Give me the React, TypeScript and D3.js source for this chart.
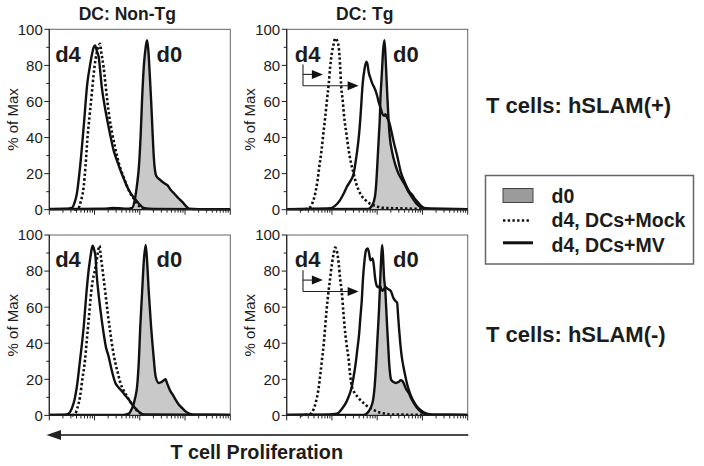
import React from "react";
import * as d3 from "d3";

type Pt = [number, number];

// ---- text ----
const columnTitles = ["DC: Non-Tg", "DC: Tg"];
const rowLabels = ["T cells: hSLAM(+)", "T cells: hSLAM(-)"];
const legendLabels = ["d0", "d4, DCs+Mock", "d4, DCs+MV"];
const xAxisTitle = "T cell Proliferation";
const yAxisTitle = "% of Max";
const yTicks = [0, 20, 40, 60, 80, 100];
const yMinorTicks = [10, 30, 50, 70, 90];
const xDomain = [1, 10000];

// ---- series: [log10 fluorescence, % of max] ----
// hSLAM(+), DC Non-Tg
const posNonTgD0: Pt[] = [[0,0.3],[1.2,0.5],[1.4,1.0],[1.55,0.8],[1.7,0.5],[1.83,1],[1.9,7],[1.94,14],[1.98,23.7],[2.02,42],[2.05,60.8],[2.09,80],[2.13,90],[2.16,94],[2.19,88],[2.22,75],[2.25,60.8],[2.28,44],[2.31,29],[2.36,19],[2.45,16.5],[2.55,14.5],[2.61,13.6],[2.68,11],[2.76,9],[2.85,6.5],[2.94,4.3],[3.02,2],[3.09,0.6],[3.3,0.3],[4,0.2]];
const posNonTgMock: Pt[] = [[0.55,0],[0.64,0.8],[0.7,5],[0.76,12.7],[0.8,24],[0.84,38.6],[0.89,52],[0.94,64.5],[0.98,75],[1.02,83],[1.06,88],[1.09,90.5],[1.12,92],[1.15,87],[1.2,79],[1.24,70],[1.28,60.8],[1.33,51],[1.39,42.3],[1.45,35],[1.5,29.3],[1.57,23],[1.64,18.2],[1.72,13],[1.79,9],[1.87,6],[1.94,3.4],[2.02,1.2],[2.1,0.3]];
const posNonTgMV: Pt[] = [[0,0.4],[0.4,0.5],[0.5,1],[0.56,4],[0.61,9],[0.68,23.7],[0.76,46],[0.84,70],[0.9,80],[0.94,85.7],[0.98,90],[1.01,91],[1.05,88],[1.09,84.8],[1.16,68],[1.22,58],[1.28,49.7],[1.35,41],[1.42,33],[1.5,27],[1.57,22],[1.65,17],[1.72,12.7],[1.79,9.5],[1.86,7],[1.94,4.5],[2.01,2.5],[2.1,0.8],[2.3,0.4],[4,0.3]];

// hSLAM(+), DC Tg
const posTgD0: Pt[] = [[0,0.3],[1.8,0.4],[1.89,2.5],[1.93,5],[1.96,9],[1.98,15],[2.0,23.7],[2.02,33],[2.04,42.3],[2.06,52],[2.07,60.8],[2.09,70],[2.11,79],[2.13,88],[2.16,94],[2.19,82],[2.22,65],[2.25,50],[2.28,40],[2.33,32],[2.4,25],[2.47,20],[2.56,16],[2.62,13.5],[2.67,10.8],[2.74,8],[2.81,5.3],[2.88,3],[2.96,1.4],[3.1,0.5],[4,0.3]];
const posTgMock: Pt[] = [[0.3,0],[0.45,0.5],[0.52,1.4],[0.58,4.5],[0.63,9],[0.68,16],[0.72,23.7],[0.77,33],[0.81,42.3],[0.85,51],[0.89,60.8],[0.93,70],[0.96,79],[1.0,87],[1.04,92],[1.07,95],[1.11,94],[1.15,90],[1.18,80],[1.2,70],[1.24,60],[1.27,51.5],[1.32,42],[1.37,33],[1.42,26],[1.48,20],[1.53,15],[1.59,10.8],[1.66,7.5],[1.74,5.3],[1.83,3.5],[1.92,2.5],[2.03,1.5],[2.14,1],[2.4,0.8],[2.7,0.6],[3.0,0.3]];
const posTgMV: Pt[] = [[0,0.3],[0.6,0.5],[0.96,0.8],[1.06,2],[1.18,5.3],[1.26,9],[1.33,12.7],[1.41,16],[1.48,20],[1.52,26],[1.56,33],[1.6,42],[1.63,51.5],[1.68,70],[1.72,78],[1.76,82],[1.79,80],[1.81,76.5],[1.85,73],[1.89,70],[1.93,68],[1.96,66.3],[2.0,63],[2.04,59],[2.08,56],[2.11,53.4],[2.15,52],[2.18,53],[2.22,51],[2.26,49],[2.3,45],[2.37,37],[2.44,30],[2.52,21],[2.63,14],[2.7,10.5],[2.78,8],[2.85,5.5],[2.92,3.5],[2.98,2],[3.04,1],[3.2,0.5],[4,0.3]];

// hSLAM(-), DC Non-Tg
const negNonTgD0: Pt[] = [[0,0.3],[1.6,0.3],[1.7,0.6],[1.76,1],[1.81,3],[1.86,6],[1.9,10],[1.94,16],[1.98,30.8],[2.01,49],[2.05,67.7],[2.09,86],[2.13,94.5],[2.16,86],[2.2,67.7],[2.25,49],[2.3,34],[2.35,21.6],[2.42,18],[2.48,18.5],[2.53,19.5],[2.57,20],[2.6,18],[2.64,15.5],[2.68,13.3],[2.74,11],[2.79,8.7],[2.86,6],[2.94,4],[3.01,2.2],[3.09,1],[3.2,0.4],[4,0.3]];
const negNonTgMock: Pt[] = [[0.5,0],[0.57,0.8],[0.62,4],[0.68,10.5],[0.73,20],[0.79,30.8],[0.83,42],[0.87,53],[0.94,71.4],[1.02,82],[1.06,88],[1.09,92.6],[1.11,94],[1.13,90],[1.16,84],[1.2,76],[1.24,67.7],[1.29,57],[1.35,45.6],[1.4,37],[1.46,29],[1.52,23],[1.57,18],[1.64,14],[1.72,10.5],[1.79,7.5],[1.86,5],[1.94,2.5],[2.01,1.3],[2.08,0.3]];
const negNonTgMV: Pt[] = [[0,0.3],[0.35,0.4],[0.42,0.8],[0.5,4],[0.56,9],[0.61,16],[0.68,30.8],[0.76,49],[0.82,67.7],[0.87,80.6],[0.91,88],[0.94,92.6],[0.96,94],[0.99,92],[1.02,88],[1.05,77],[1.09,67],[1.13,58.5],[1.2,45.6],[1.25,38],[1.31,32.7],[1.38,25],[1.46,18],[1.53,15.5],[1.61,13.3],[1.68,11],[1.76,8.7],[1.86,5],[1.94,3],[2.01,1.3],[2.1,0.5],[4,0.3]];

// hSLAM(-), DC Tg
const negTgD0: Pt[] = [[0,0.3],[1.7,0.3],[1.81,2.2],[1.87,5],[1.91,8.7],[1.94,15],[1.96,21.6],[1.98,30],[2.0,40],[2.02,49],[2.04,58.5],[2.07,77],[2.09,88],[2.11,94.5],[2.13,88],[2.15,77],[2.18,69],[2.2,59],[2.22,49],[2.24,40],[2.26,30.8],[2.31,19.7],[2.36,18.5],[2.41,18],[2.47,18.5],[2.52,19.5],[2.56,19],[2.59,17.5],[2.64,14.5],[2.7,12.3],[2.75,9.5],[2.81,6.8],[2.88,4.2],[2.96,2.2],[3.05,0.8],[3.2,0.4],[4,0.3]];
const negTgMock: Pt[] = [[0.3,0],[0.45,0.5],[0.53,1],[0.59,3.1],[0.64,7],[0.7,14.2],[0.74,22],[0.78,30.8],[0.82,40],[0.85,49],[0.88,58],[0.92,67.7],[0.96,76],[1.0,84],[1.04,90],[1.07,93],[1.11,91],[1.15,84],[1.18,76],[1.22,67.7],[1.25,58],[1.28,49],[1.32,40],[1.37,30.8],[1.4,23],[1.44,16],[1.5,12.5],[1.56,10.5],[1.63,8.5],[1.7,6.8],[1.77,5.3],[1.85,4],[1.94,2.8],[2.04,1.7],[2.17,1],[2.3,0.5],[2.6,0.4],[3.0,0.3]];
const negTgMV: Pt[] = [[0,0.3],[0.8,0.4],[1.11,0.9],[1.2,3],[1.26,5],[1.32,7.5],[1.37,10.5],[1.43,15],[1.48,21.6],[1.52,28],[1.56,36.4],[1.6,45],[1.63,54.8],[1.66,64],[1.68,73.3],[1.72,86],[1.76,92],[1.79,92.6],[1.82,90],[1.85,86],[1.88,86.5],[1.9,87],[1.93,82],[1.95,77],[2.0,71.4],[2.03,71],[2.06,72],[2.11,69],[2.15,70],[2.18,71],[2.24,70],[2.3,69],[2.36,65],[2.4,63.5],[2.44,62.6],[2.46,56],[2.48,49],[2.51,40],[2.54,33],[2.58,27],[2.62,22],[2.67,16.5],[2.72,12.5],[2.78,9],[2.85,6],[2.92,3.8],[3.0,2.2],[3.1,1],[3.25,0.4],[4,0.3]];

const panels = [
  { row: 0, col: 0, d0: posNonTgD0, mock: posNonTgMock, mv: posNonTgMV },
  { row: 0, col: 1, d0: posTgD0, mock: posTgMock, mv: posTgMV },
  { row: 1, col: 0, d0: negNonTgD0, mock: negNonTgMock, mv: negNonTgMV },
  { row: 1, col: 1, d0: negTgD0, mock: negTgMock, mv: negTgMV },
];

const FONT = "'Liberation Sans', Arial, Helvetica, sans-serif";
const TXT = "#1c1c1c";
const FILL = "#c9c9c9";
const PANEL_X = [49.3, 286.7];
const PANEL_Y = [29.3, 235];
const PW = 181;
const PH = 180.4;
const DOT = "2.4 2.3";

function Panel({ p }: { p: typeof panels[number] }) {
  const x0 = PANEL_X[p.col];
  const y0 = PANEL_Y[p.row];
  const xs = d3.scaleLog().domain(xDomain).range([x0, x0 + PW]);
  const ys = d3.scaleLinear().domain([0, 100]).range([y0 + PH, y0]);
  const X = (d: number) => xs(Math.pow(10, d));
  const line = d3.line<Pt>().x((d) => X(d[0])).y((d) => ys(d[1])).curve(d3.curveMonotoneX);
  const area = d3.area<Pt>().x((d) => X(d[0])).y0(ys(0)).y1((d) => ys(d[1])).curve(d3.curveMonotoneX);
  const clipId = `clip-${p.row}-${p.col}`;
  const xt = xs.ticks();
  const isMajor = (v: number) => Math.abs(Math.log10(v) - Math.round(Math.log10(v))) < 1e-6;
  const tg = p.col === 1;

  // shift annotation (Tg panels)
  const bx = X(0.36);
  const sy = ys(75);
  const ly = ys(68.7);
  const sTip = X(0.8);
  const lTip = X(1.59);
  const head = (tip: number, y: number) => `${tip},${y} ${tip - 11},${y - 4.5} ${tip - 11},${y + 4.5}`;

  return (
    <g>
      <defs>
        <clipPath id={clipId}>
          <rect x={x0} y={y0} width={PW} height={PH + 1.5} />
        </clipPath>
      </defs>
      <rect x={x0} y={y0} width={PW} height={PH} fill="#fff" stroke="#666" strokeWidth={1} />
      <g clipPath={`url(#${clipId})`}>
        <path d={area(p.d0) || ""} fill={FILL} />
        <path d={line(p.mock) || ""} fill="none" stroke="#111" strokeWidth={2.6} strokeDasharray={DOT} />
        <path d={line(p.mv) || ""} fill="none" stroke="#111" strokeWidth={2.4} strokeLinejoin="round" />
        <path d={line(p.d0) || ""} fill="none" stroke="#111" strokeWidth={2.4} strokeLinejoin="round" />
      </g>
      {/* axes */}
      <line x1={x0} x2={x0} y1={y0} y2={y0 + PH} stroke="#222" strokeWidth={1.2} />
      <line x1={x0} x2={x0 + PW} y1={y0 + PH} y2={y0 + PH} stroke="#222" strokeWidth={1.2} />
      {yTicks.map((t) => (
        <g key={"y" + t}>
          <line x1={x0 - 5} x2={x0} y1={ys(t)} y2={ys(t)} stroke="#222" strokeWidth={1} />
          <text x={x0 - 6.5} y={ys(t)} dy="0.36em" textAnchor="end" fontSize={15} fontFamily={FONT} fill={TXT}>
            {t}
          </text>
        </g>
      ))}
      {yMinorTicks.map((t) => (
        <line key={"ym" + t} x1={x0 - 3} x2={x0} y1={ys(t)} y2={ys(t)} stroke="#222" strokeWidth={1} />
      ))}
      {xt.map((t, i) => (
        <line key={"x" + i} x1={xs(t)} x2={xs(t)} y1={y0 + PH} y2={y0 + PH + (isMajor(t) ? 5 : 3)} stroke="#222" strokeWidth={1} />
      ))}
      <text
        transform={`translate(${x0 - 37},${y0 + PH / 2}) rotate(-90)`}
        textAnchor="middle"
        dy="0.35em"
        fontSize={15}
        fontFamily={FONT}
        fill={TXT}
      >
        {yAxisTitle}
      </text>
      {/* d4 / d0 labels */}
      <text x={X(tg ? 0.18 : 0.13)} y={ys(82)} fontSize={22} fontWeight="bold" fontFamily={FONT} fill={TXT}>
        d4
      </text>
      <text x={X(tg ? 2.35 : 2.37)} y={ys(82)} fontSize={22} fontWeight="bold" fontFamily={FONT} fill={TXT}>
        d0
      </text>
      {tg && (
        <g>
          <line x1={bx} x2={bx} y1={ys(80.5)} y2={ly} stroke="#222" strokeWidth={1.1} />
          <line x1={bx} x2={sTip - 10} y1={sy} y2={sy} stroke="#222" strokeWidth={1.1} />
          <line x1={bx} x2={lTip - 10} y1={ly} y2={ly} stroke="#222" strokeWidth={1.1} />
          <polygon points={head(sTip, sy)} fill="#111" />
          <polygon points={head(lTip, ly)} fill="#111" />
        </g>
      )}
    </g>
  );
}

export default function App() {
  return (
    <svg
      width={704}
      height={466}
      style={{ position: "absolute", left: 0, top: 0, background: "#fff" }}
    >
      <rect x={0} y={0} width={704} height={466} fill="#fff" />
      {columnTitles.map((t, i) => (
        <text key={t} x={PANEL_X[i] + 78} y={20} textAnchor="middle" fontSize={17.5} fontWeight="bold" fontFamily={FONT} fill={TXT}>
          {t}
        </text>
      ))}
      {panels.map((p) => (
        <Panel key={`${p.row}-${p.col}`} p={p} />
      ))}
      {rowLabels.map((t, i) => (
        <text key={t} x={486} y={i === 0 ? 113.3 : 341.5} fontSize={22} fontWeight="bold" fontFamily={FONT} fill={TXT}>
          {t}
        </text>
      ))}
      {/* legend */}
      <g>
        <rect x={485.5} y={175.5} width={208} height={88.5} fill="#fff" stroke="#666" strokeWidth={1.5} />
        <rect x={503} y={188.5} width={30} height={14} fill="#9b9b9b" stroke="#444" strokeWidth={1} />
        <line x1={503} x2={531} y1={220.5} y2={220.5} stroke="#111" strokeWidth={2.6} strokeDasharray={DOT} />
        <line x1={503} x2={533} y1={242.8} y2={242.8} stroke="#111" strokeWidth={3} />
        {legendLabels.map((l, i) => (
          <text key={l} x={551.5} y={[203.3, 227, 251.8][i]} fontSize={19.5} fontWeight="bold" fontFamily={FONT} fill={TXT}>
            {l}
          </text>
        ))}
      </g>
      {/* proliferation arrow */}
      <line x1={58} x2={468.3} y1={435} y2={435} stroke="#4a4a4a" strokeWidth={2} />
      <polygon points="46.5,435 61,430 61,440" fill="#222" />
      <text x={256.7} y={459.3} textAnchor="middle" fontSize={19.8} fontWeight="bold" fontFamily={FONT} fill={TXT}>
        {xAxisTitle}
      </text>
    </svg>
  );
}
